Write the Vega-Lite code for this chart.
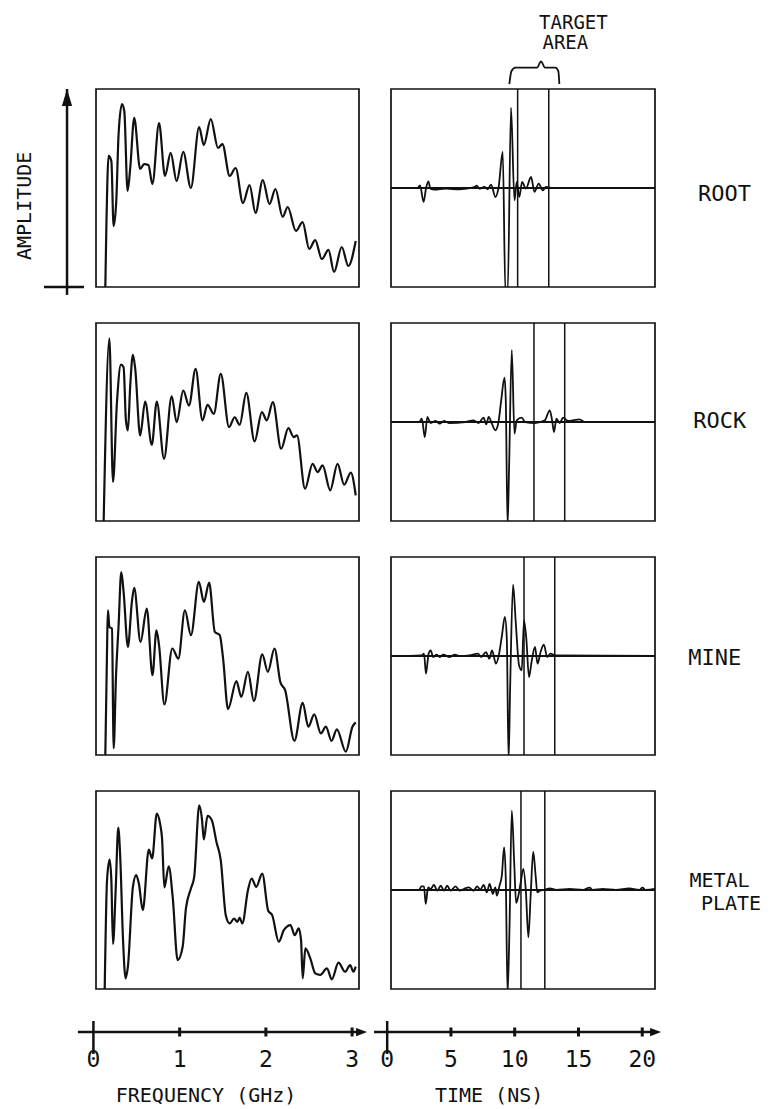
{
  "$schema": "https://vega.github.io/schema/vega-lite/v6.json",
  "background": "white",
  "padding": {"left": 14, "top": 12, "right": 4, "bottom": 2},
  "columns": 2,
  "bounds": "flush",
  "align": "each",
  "spacing": {"row": 36, "column": 32},
  "config": {
    "view": {"stroke": "#111", "strokeWidth": 1.7},
    "text": {"font": "DejaVu Sans Mono", "color": "#111"}
  },
  "datasets": {
    "spectra": [
      {"target":"ROOT","f":0.138,"a":0},{"target":"ROOT","f":0.150,"a":0.298},{"target":"ROOT","f":0.176,"a":0.662},{"target":"ROOT","f":0.208,"a":0.636},{"target":"ROOT","f":0.234,"a":0.308},{"target":"ROOT","f":0.265,"a":0.434},{"target":"ROOT","f":0.292,"a":0.773},{"target":"ROOT","f":0.331,"a":0.924},{"target":"ROOT","f":0.358,"a":0.889},{"target":"ROOT","f":0.396,"a":0.485},{"target":"ROOT","f":0.427,"a":0.601},{"target":"ROOT","f":0.473,"a":0.854},{"target":"ROOT","f":0.542,"a":0.596},{"target":"ROOT","f":0.588,"a":0.621},{"target":"ROOT","f":0.638,"a":0.616},{"target":"ROOT","f":0.684,"a":0.520},{"target":"ROOT","f":0.761,"a":0.828},{"target":"ROOT","f":0.830,"a":0.561},{"target":"ROOT","f":0.896,"a":0.677},{"target":"ROOT","f":0.965,"a":0.535},{"target":"ROOT","f":1.042,"a":0.682},{"target":"ROOT","f":1.130,"a":0.500},{"target":"ROOT","f":1.226,"a":0.808},{"target":"ROOT","f":1.280,"a":0.717},{"target":"ROOT","f":1.361,"a":0.848},{"target":"ROOT","f":1.445,"a":0.702},{"target":"ROOT","f":1.496,"a":0.722},{"target":"ROOT","f":1.580,"a":0.561},{"target":"ROOT","f":1.649,"a":0.601},{"target":"ROOT","f":1.734,"a":0.424},{"target":"ROOT","f":1.811,"a":0.515},{"target":"ROOT","f":1.880,"a":0.374},{"target":"ROOT","f":1.964,"a":0.540},{"target":"ROOT","f":2.042,"a":0.419},{"target":"ROOT","f":2.111,"a":0.495},{"target":"ROOT","f":2.195,"a":0.354},{"target":"ROOT","f":2.253,"a":0.404},{"target":"ROOT","f":2.349,"a":0.283},{"target":"ROOT","f":2.426,"a":0.328},{"target":"ROOT","f":2.503,"a":0.192},{"target":"ROOT","f":2.572,"a":0.237},{"target":"ROOT","f":2.649,"a":0.141},{"target":"ROOT","f":2.726,"a":0.187},{"target":"ROOT","f":2.791,"a":0.076},{"target":"ROOT","f":2.880,"a":0.202},{"target":"ROOT","f":2.956,"a":0.106},{"target":"ROOT","f":3.042,"a":0.232},
      {"target":"ROCK","f":0.119,"a":0},{"target":"ROCK","f":0.185,"a":0.923},{"target":"ROCK","f":0.227,"a":0.197},{"target":"ROCK","f":0.273,"a":0.600},{"target":"ROCK","f":0.319,"a":0.790},{"target":"ROCK","f":0.350,"a":0.776},{"target":"ROCK","f":0.377,"a":0.508},{"target":"ROCK","f":0.400,"a":0.457},{"target":"ROCK","f":0.427,"a":0.684},{"target":"ROCK","f":0.458,"a":0.839},{"target":"ROCK","f":0.485,"a":0.768},{"target":"ROCK","f":0.542,"a":0.432},{"target":"ROCK","f":0.600,"a":0.603},{"target":"ROCK","f":0.677,"a":0.385},{"target":"ROCK","f":0.735,"a":0.603},{"target":"ROCK","f":0.819,"a":0.314},{"target":"ROCK","f":0.908,"a":0.630},{"target":"ROCK","f":0.965,"a":0.499},{"target":"ROCK","f":1.042,"a":0.659},{"target":"ROCK","f":1.108,"a":0.583},{"target":"ROCK","f":1.185,"a":0.768},{"target":"ROCK","f":1.265,"a":0.508},{"target":"ROCK","f":1.323,"a":0.587},{"target":"ROCK","f":1.396,"a":0.541},{"target":"ROCK","f":1.477,"a":0.743},{"target":"ROCK","f":1.573,"a":0.474},{"target":"ROCK","f":1.638,"a":0.524},{"target":"ROCK","f":1.696,"a":0.486},{"target":"ROCK","f":1.773,"a":0.647},{"target":"ROCK","f":1.869,"a":0.402},{"target":"ROCK","f":1.954,"a":0.550},{"target":"ROCK","f":2.011,"a":0.508},{"target":"ROCK","f":2.081,"a":0.600},{"target":"ROCK","f":2.177,"a":0.365},{"target":"ROCK","f":2.261,"a":0.469},{"target":"ROCK","f":2.323,"a":0.424},{"target":"ROCK","f":2.361,"a":0.432},{"target":"ROCK","f":2.454,"a":0.163},{"target":"ROCK","f":2.542,"a":0.289},{"target":"ROCK","f":2.600,"a":0.247},{"target":"ROCK","f":2.658,"a":0.281},{"target":"ROCK","f":2.746,"a":0.155},{"target":"ROCK","f":2.831,"a":0.289},{"target":"ROCK","f":2.908,"a":0.183},{"target":"ROCK","f":2.985,"a":0.244},{"target":"ROCK","f":3.042,"a":0.129},
      {"target":"MINE","f":0.138,"a":0},{"target":"MINE","f":0.161,"a":0.613},{"target":"MINE","f":0.169,"a":0.731},{"target":"MINE","f":0.185,"a":0.647},{"target":"MINE","f":0.215,"a":0.639},{"target":"MINE","f":0.235,"a":0.034},{"target":"MINE","f":0.261,"a":0.387},{"target":"MINE","f":0.292,"a":0.655},{"target":"MINE","f":0.323,"a":0.924},{"target":"MINE","f":0.350,"a":0.824},{"target":"MINE","f":0.400,"a":0.546},{"target":"MINE","f":0.446,"a":0.773},{"target":"MINE","f":0.473,"a":0.844},{"target":"MINE","f":0.546,"a":0.571},{"target":"MINE","f":0.619,"a":0.739},{"target":"MINE","f":0.685,"a":0.403},{"target":"MINE","f":0.731,"a":0.630},{"target":"MINE","f":0.761,"a":0.555},{"target":"MINE","f":0.823,"a":0.255},{"target":"MINE","f":0.915,"a":0.538},{"target":"MINE","f":0.985,"a":0.487},{"target":"MINE","f":1.061,"a":0.731},{"target":"MINE","f":1.131,"a":0.605},{"target":"MINE","f":1.223,"a":0.874},{"target":"MINE","f":1.281,"a":0.773},{"target":"MINE","f":1.342,"a":0.871},{"target":"MINE","f":1.408,"a":0.622},{"target":"MINE","f":1.465,"a":0.605},{"target":"MINE","f":1.504,"a":0.487},{"target":"MINE","f":1.561,"a":0.232},{"target":"MINE","f":1.658,"a":0.373},{"target":"MINE","f":1.715,"a":0.294},{"target":"MINE","f":1.792,"a":0.420},{"target":"MINE","f":1.861,"a":0.272},{"target":"MINE","f":1.958,"a":0.508},{"target":"MINE","f":2.023,"a":0.420},{"target":"MINE","f":2.100,"a":0.538},{"target":"MINE","f":2.169,"a":0.366},{"target":"MINE","f":2.223,"a":0.328},{"target":"MINE","f":2.331,"a":0.072},{"target":"MINE","f":2.427,"a":0.264},{"target":"MINE","f":2.492,"a":0.143},{"target":"MINE","f":2.561,"a":0.205},{"target":"MINE","f":2.638,"a":0.109},{"target":"MINE","f":2.696,"a":0.143},{"target":"MINE","f":2.761,"a":0.071},{"target":"MINE","f":2.823,"a":0.129},{"target":"MINE","f":2.927,"a":0.017},{"target":"MINE","f":3.004,"a":0.143},{"target":"MINE","f":3.042,"a":0.165},
      {"target":"METAL","f":0.131,"a":0},{"target":"METAL","f":0.158,"a":0.550},{"target":"METAL","f":0.188,"a":0.654},{"target":"METAL","f":0.208,"a":0.550},{"target":"METAL","f":0.227,"a":0.227},{"target":"METAL","f":0.258,"a":0.499},{"target":"METAL","f":0.288,"a":0.815},{"target":"METAL","f":0.311,"a":0.667},{"target":"METAL","f":0.342,"a":0.264},{"target":"METAL","f":0.373,"a":0.054},{"target":"METAL","f":0.400,"a":0.113},{"target":"METAL","f":0.458,"a":0.516},{"target":"METAL","f":0.496,"a":0.575},{"target":"METAL","f":0.527,"a":0.533},{"target":"METAL","f":0.573,"a":0.398},{"target":"METAL","f":0.642,"a":0.704},{"target":"METAL","f":0.681,"a":0.659},{"target":"METAL","f":0.735,"a":0.886},{"target":"METAL","f":0.773,"a":0.835},{"target":"METAL","f":0.796,"a":0.760},{"target":"METAL","f":0.823,"a":0.513},{"target":"METAL","f":0.873,"a":0.620},{"target":"METAL","f":0.919,"a":0.466},{"target":"METAL","f":0.977,"a":0.146},{"target":"METAL","f":1.035,"a":0.213},{"target":"METAL","f":1.073,"a":0.407},{"target":"METAL","f":1.131,"a":0.508},{"target":"METAL","f":1.169,"a":0.566},{"target":"METAL","f":1.227,"a":0.928},{"target":"METAL","f":1.258,"a":0.861},{"target":"METAL","f":1.281,"a":0.755},{"target":"METAL","f":1.323,"a":0.874},{"target":"METAL","f":1.373,"a":0.852},{"target":"METAL","f":1.427,"a":0.743},{"target":"METAL","f":1.477,"a":0.650},{"target":"METAL","f":1.535,"a":0.373},{"target":"METAL","f":1.581,"a":0.331},{"target":"METAL","f":1.631,"a":0.356},{"target":"METAL","f":1.669,"a":0.339},{"target":"METAL","f":1.696,"a":0.360},{"target":"METAL","f":1.727,"a":0.331},{"target":"METAL","f":1.792,"a":0.499},{"target":"METAL","f":1.835,"a":0.558},{"target":"METAL","f":1.888,"a":0.516},{"target":"METAL","f":1.958,"a":0.583},{"target":"METAL","f":2.027,"a":0.395},{"target":"METAL","f":2.073,"a":0.373},{"target":"METAL","f":2.150,"a":0.239},{"target":"METAL","f":2.208,"a":0.297},{"target":"METAL","f":2.285,"a":0.323},{"target":"METAL","f":2.335,"a":0.272},{"target":"METAL","f":2.381,"a":0.306},{"target":"METAL","f":2.408,"a":0.247},{"target":"METAL","f":2.427,"a":0.054},{"target":"METAL","f":2.458,"a":0.205},{"target":"METAL","f":2.515,"a":0.155},{"target":"METAL","f":2.573,"a":0.079},{"target":"METAL","f":2.631,"a":0.071},{"target":"METAL","f":2.708,"a":0.104},{"target":"METAL","f":2.765,"a":0.049},{"target":"METAL","f":2.842,"a":0.133},{"target":"METAL","f":2.919,"a":0.087},{"target":"METAL","f":2.977,"a":0.121},{"target":"METAL","f":3.015,"a":0.087},{"target":"METAL","f":3.042,"a":0.113}
    ],
    "signals": [
      {"target":"ROOT","t":0.30,"v":0},{"target":"ROOT","t":2.39,"v":0},{"target":"ROOT","t":2.57,"v":0.027},{"target":"ROOT","t":2.86,"v":-0.141},{"target":"ROOT","t":3.04,"v":-0.007},{"target":"ROOT","t":3.23,"v":0.067},{"target":"ROOT","t":3.39,"v":-0.007},{"target":"ROOT","t":3.70,"v":-0.017},{"target":"ROOT","t":4.61,"v":-0.007},{"target":"ROOT","t":5.66,"v":-0.013},{"target":"ROOT","t":6.83,"v":0.010},{"target":"ROOT","t":7.02,"v":0.024},{"target":"ROOT","t":7.23,"v":-0.007},{"target":"ROOT","t":7.62,"v":0.010},{"target":"ROOT","t":7.89,"v":-0.013},{"target":"ROOT","t":8.14,"v":0.034},{"target":"ROOT","t":8.49,"v":-0.091},{"target":"ROOT","t":8.74,"v":0.010},{"target":"ROOT","t":9.06,"v":0.364},{"target":"ROOT","t":9.27,"v":-1.05},{"target":"ROOT","t":9.45,"v":-1.05},{"target":"ROOT","t":9.71,"v":0.811},{"target":"ROOT","t":9.98,"v":-0.125},{"target":"ROOT","t":10.16,"v":0.061},{"target":"ROOT","t":10.36,"v":-0.091},{"target":"ROOT","t":10.58,"v":0.061},{"target":"ROOT","t":10.88,"v":-0.007},{"target":"ROOT","t":11.28,"v":0.111},{"target":"ROOT","t":11.55,"v":-0.040},{"target":"ROOT","t":11.88,"v":0.044},{"target":"ROOT","t":12.20,"v":-0.024},{"target":"ROOT","t":12.45,"v":0.010},{"target":"ROOT","t":12.98,"v":0},{"target":"ROOT","t":21.0,"v":0},
      {"target":"ROCK","t":0.30,"v":0},{"target":"ROCK","t":2.50,"v":0},{"target":"ROCK","t":2.72,"v":0.034},{"target":"ROCK","t":2.95,"v":-0.152},{"target":"ROCK","t":3.15,"v":0.051},{"target":"ROCK","t":3.41,"v":-0.010},{"target":"ROCK","t":3.81,"v":0.010},{"target":"ROCK","t":4.11,"v":-0.017},{"target":"ROCK","t":4.45,"v":0.010},{"target":"ROCK","t":4.84,"v":-0.010},{"target":"ROCK","t":6.14,"v":0},{"target":"ROCK","t":6.78,"v":0.017},{"target":"ROCK","t":7.17,"v":-0.010},{"target":"ROCK","t":7.56,"v":0.044},{"target":"ROCK","t":7.77,"v":-0.024},{"target":"ROCK","t":7.96,"v":0.051},{"target":"ROCK","t":8.21,"v":-0.017},{"target":"ROCK","t":8.48,"v":-0.084},{"target":"ROCK","t":8.73,"v":0},{"target":"ROCK","t":8.94,"v":0.219},{"target":"ROCK","t":9.20,"v":0.448},{"target":"ROCK","t":9.30,"v":0.219},{"target":"ROCK","t":9.44,"v":-1.05},{"target":"ROCK","t":9.56,"v":-0.455},{"target":"ROCK","t":9.77,"v":0.727},{"target":"ROCK","t":9.98,"v":-0.118},{"target":"ROCK","t":10.16,"v":0.017},{"target":"ROCK","t":10.55,"v":0.044},{"target":"ROCK","t":10.81,"v":0},{"target":"ROCK","t":11.59,"v":-0.010},{"target":"ROCK","t":12.36,"v":0.017},{"target":"ROCK","t":12.75,"v":0.118},{"target":"ROCK","t":12.93,"v":0.017},{"target":"ROCK","t":13.08,"v":-0.101},{"target":"ROCK","t":13.27,"v":0.034},{"target":"ROCK","t":13.53,"v":-0.010},{"target":"ROCK","t":13.79,"v":0.044},{"target":"ROCK","t":14.18,"v":0.010},{"target":"ROCK","t":14.57,"v":0.017},{"target":"ROCK","t":15.08,"v":0.027},{"target":"ROCK","t":15.48,"v":0},{"target":"ROCK","t":21.0,"v":0},
      {"target":"MINE","t":0.30,"v":0},{"target":"MINE","t":2.71,"v":0.007},{"target":"MINE","t":2.89,"v":0.024},{"target":"MINE","t":3.04,"v":-0.178},{"target":"MINE","t":3.25,"v":0.024},{"target":"MINE","t":3.41,"v":0.057},{"target":"MINE","t":3.61,"v":-0.010},{"target":"MINE","t":3.87,"v":0.013},{"target":"MINE","t":4.13,"v":-0.010},{"target":"MINE","t":4.39,"v":0.013},{"target":"MINE","t":4.91,"v":-0.010},{"target":"MINE","t":5.30,"v":0.013},{"target":"MINE","t":5.68,"v":0},{"target":"MINE","t":6.46,"v":0.007},{"target":"MINE","t":7.11,"v":0.024},{"target":"MINE","t":7.37,"v":-0.010},{"target":"MINE","t":7.75,"v":0.040},{"target":"MINE","t":8.01,"v":-0.027},{"target":"MINE","t":8.22,"v":0.057},{"target":"MINE","t":8.53,"v":-0.077},{"target":"MINE","t":8.78,"v":0.024},{"target":"MINE","t":9.00,"v":0.209},{"target":"MINE","t":9.23,"v":0.394},{"target":"MINE","t":9.38,"v":0.175},{"target":"MINE","t":9.52,"v":-1.05},{"target":"MINE","t":9.64,"v":-0.330},{"target":"MINE","t":9.87,"v":0.721},{"target":"MINE","t":10.08,"v":0.343},{"target":"MINE","t":10.34,"v":-0.094},{"target":"MINE","t":10.55,"v":-0.145},{"target":"MINE","t":10.73,"v":0.360},{"target":"MINE","t":10.91,"v":0.175},{"target":"MINE","t":11.12,"v":-0.212},{"target":"MINE","t":11.32,"v":-0.061},{"target":"MINE","t":11.59,"v":0.091},{"target":"MINE","t":11.79,"v":-0.077},{"target":"MINE","t":12.03,"v":0.040},{"target":"MINE","t":12.28,"v":0.114},{"target":"MINE","t":12.55,"v":-0.010},{"target":"MINE","t":12.80,"v":0.024},{"target":"MINE","t":13.19,"v":0.007},{"target":"MINE","t":21.0,"v":0},
      {"target":"METAL","t":0.30,"v":0},{"target":"METAL","t":2.50,"v":0},{"target":"METAL","t":2.69,"v":0.037},{"target":"METAL","t":2.89,"v":0.037},{"target":"METAL","t":3.02,"v":-0.141},{"target":"METAL","t":3.21,"v":0.027},{"target":"METAL","t":3.41,"v":0.010},{"target":"METAL","t":3.67,"v":0.051},{"target":"METAL","t":3.93,"v":-0.007},{"target":"METAL","t":4.20,"v":0.044},{"target":"METAL","t":4.45,"v":-0.007},{"target":"METAL","t":4.71,"v":0.044},{"target":"METAL","t":4.97,"v":-0.007},{"target":"METAL","t":5.36,"v":0.037},{"target":"METAL","t":5.69,"v":-0.007},{"target":"METAL","t":6.01,"v":0.010},{"target":"METAL","t":6.40,"v":0.027},{"target":"METAL","t":6.78,"v":-0.007},{"target":"METAL","t":7.05,"v":0.037},{"target":"METAL","t":7.30,"v":0.003},{"target":"METAL","t":7.56,"v":0.051},{"target":"METAL","t":7.82,"v":-0.024},{"target":"METAL","t":8.03,"v":0.061},{"target":"METAL","t":8.29,"v":-0.040},{"target":"METAL","t":8.48,"v":0.027},{"target":"METAL","t":8.60,"v":-0.057},{"target":"METAL","t":8.81,"v":0.044},{"target":"METAL","t":8.99,"v":0.145},{"target":"METAL","t":9.17,"v":0.431},{"target":"METAL","t":9.30,"v":0.111},{"target":"METAL","t":9.44,"v":-1.05},{"target":"METAL","t":9.59,"v":-0.394},{"target":"METAL","t":9.77,"v":0.801},{"target":"METAL","t":9.96,"v":0.279},{"target":"METAL","t":10.11,"v":-0.131},{"target":"METAL","t":10.29,"v":-0.057},{"target":"METAL","t":10.47,"v":0.077},{"target":"METAL","t":10.68,"v":0.212},{"target":"METAL","t":10.88,"v":-0.024},{"target":"METAL","t":11.07,"v":-0.478},{"target":"METAL","t":11.25,"v":-0.057},{"target":"METAL","t":11.45,"v":0.387},{"target":"METAL","t":11.64,"v":0.145},{"target":"METAL","t":11.77,"v":-0.024},{"target":"METAL","t":11.97,"v":-0.007},{"target":"METAL","t":12.36,"v":0.003},{"target":"METAL","t":12.75,"v":0.017},{"target":"METAL","t":13.27,"v":0},{"target":"METAL","t":14.31,"v":0.010},{"target":"METAL","t":15.35,"v":0},{"target":"METAL","t":15.87,"v":0.024},{"target":"METAL","t":16.12,"v":0},{"target":"METAL","t":16.90,"v":0.010},{"target":"METAL","t":17.94,"v":0},{"target":"METAL","t":18.98,"v":0.017},{"target":"METAL","t":19.75,"v":0},{"target":"METAL","t":20.02,"v":0.024},{"target":"METAL","t":20.27,"v":0},{"target":"METAL","t":21.0,"v":0.010}
    ],
    "windows": [
      {"target":"ROOT","t":10.23},{"target":"ROOT","t":12.67},
      {"target":"ROCK","t":11.51},{"target":"ROCK","t":13.92},
      {"target":"MINE","t":10.73},{"target":"MINE","t":13.14},
      {"target":"METAL","t":10.49},{"target":"METAL","t":12.36}
    ],
    "brace": [
      {"t":9.58,"v":1.05},{"t":9.74,"v":1.18},{"t":10.05,"v":1.215},{"t":11.75,"v":1.215},{"t":12.06,"v":1.28},{"t":12.38,"v":1.215},{"t":13.19,"v":1.215},{"t":13.42,"v":1.18},{"t":13.50,"v":1.05}
    ],
    "notes": [
      {"t":14.6,"v":1.67,"label":"TARGET"},
      {"t":13.97,"v":1.46,"label":"AREA"}
    ],
    "ampAxis": [
      {"f":-0.306,"f2":-0.306,"a":-0.04,"a2":1.0},
      {"f":-0.573,"f2":-0.109,"a":0,"a2":0}
    ],
    "freqTicks": [{"f":0},{"f":1},{"f":2},{"f":3}],
    "timeTicks": [{"t":0},{"t":5},{"t":10},{"t":15},{"t":20}]
  },
  "concat": [
    {
      "width": 263, "height": 198,
      "layer": [
        {
          "data": {"name": "spectra"},
          "transform": [{"filter": "datum.target === 'ROOT'"}],
          "mark": {"type": "line", "interpolate": "monotone", "color": "#111", "strokeWidth": 2.2, "strokeJoin": "round", "clip": true},
          "encoding": {
            "x": {"field": "f", "type": "quantitative", "scale": {"domain": [0.03, 3.08], "nice": false, "zero": false}, "axis": null},
            "y": {"field": "a", "type": "quantitative", "scale": {"domain": [0, 1], "nice": false}, "axis": null}
          }
        },
        {
          "data": {"name": "ampAxis"},
          "mark": {"type": "rule", "color": "#111", "strokeWidth": 2.5},
          "encoding": {
            "x": {"field": "f", "type": "quantitative", "scale": {"domain": [0.03, 3.08], "nice": false, "zero": false}, "axis": null},
            "x2": {"field": "f2"},
            "y": {"field": "a", "type": "quantitative", "scale": {"domain": [0, 1], "nice": false}, "axis": null},
            "y2": {"field": "a2"}
          }
        },
        {
          "data": {"values": [{}]},
          "mark": {"type": "point", "shape": "M0,-1L0.6,1L-0.6,1Z", "filled": true, "size": 289, "color": "#111", "opacity": 1},
          "encoding": {
            "x": {"datum": -0.306, "type": "quantitative", "scale": {"domain": [0.03, 3.08], "nice": false, "zero": false}, "axis": null},
            "y": {"datum": 0.957, "type": "quantitative", "scale": {"domain": [0, 1], "nice": false}, "axis": null}
          }
        },
        {
          "data": {"values": [{}]},
          "mark": {"type": "text", "fontSize": 20, "angle": 270, "align": "center", "baseline": "middle"},
          "encoding": {
            "x": {"datum": -0.793, "type": "quantitative", "scale": {"domain": [0.03, 3.08], "nice": false, "zero": false}, "axis": null},
            "y": {"datum": 0.41, "type": "quantitative", "scale": {"domain": [0, 1], "nice": false}, "axis": null},
            "text": {"value": "AMPLITUDE"}
          }
        }
      ]
    },
    {
      "width": 264, "height": 198,
      "layer": [
        {
          "data": {"values": [{}]},
          "mark": {"type": "rule", "color": "#111", "strokeWidth": 1.8},
          "encoding": {
            "y": {"datum": 0, "type": "quantitative", "scale": {"domain": [-1, 1], "nice": false}, "axis": null}
          }
        },
        {
          "data": {"name": "windows"},
          "transform": [{"filter": "datum.target === 'ROOT'"}],
          "mark": {"type": "rule", "color": "#111", "strokeWidth": 1.5},
          "encoding": {
            "x": {"field": "t", "type": "quantitative", "scale": {"domain": [0.3, 21], "nice": false, "zero": false}, "axis": null}
          }
        },
        {
          "data": {"name": "signals"},
          "transform": [{"filter": "datum.target === 'ROOT'"}],
          "mark": {"type": "line", "interpolate": "monotone", "color": "#111", "strokeWidth": 1.8, "strokeJoin": "round", "clip": true},
          "encoding": {
            "x": {"field": "t", "type": "quantitative", "scale": {"domain": [0.3, 21], "nice": false, "zero": false}, "axis": null},
            "y": {"field": "v", "type": "quantitative", "scale": {"domain": [-1, 1], "nice": false}, "axis": null}
          }
        },
        {
          "data": {"name": "brace"},
          "mark": {"type": "line", "interpolate": "monotone", "color": "#111", "strokeWidth": 1.8, "strokeJoin": "round"},
          "encoding": {
            "x": {"field": "t", "type": "quantitative", "scale": {"domain": [0.3, 21], "nice": false, "zero": false}, "axis": null},
            "y": {"field": "v", "type": "quantitative", "scale": {"domain": [-1, 1], "nice": false}, "axis": null}
          }
        },
        {
          "data": {"name": "notes"},
          "mark": {"type": "text", "fontSize": 19, "align": "center", "baseline": "middle"},
          "encoding": {
            "x": {"field": "t", "type": "quantitative", "scale": {"domain": [0.3, 21], "nice": false, "zero": false}, "axis": null},
            "y": {"field": "v", "type": "quantitative", "scale": {"domain": [-1, 1], "nice": false}, "axis": null},
            "text": {"field": "label"}
          }
        },
        {
          "data": {"values": [{}]},
          "mark": {"type": "text", "fontSize": 22, "align": "left", "baseline": "middle"},
          "encoding": {
            "x": {"datum": 24.38, "type": "quantitative", "scale": {"domain": [0.3, 21], "nice": false, "zero": false}, "axis": null},
            "y": {"datum": -0.06, "type": "quantitative", "scale": {"domain": [-1, 1], "nice": false}, "axis": null},
            "text": {"value": "ROOT"}
          }
        }
      ]
    },
    {
      "width": 263, "height": 198,
      "data": {"name": "spectra"},
      "transform": [{"filter": "datum.target === 'ROCK'"}],
      "mark": {"type": "line", "interpolate": "monotone", "color": "#111", "strokeWidth": 2.2, "strokeJoin": "round", "clip": true},
      "encoding": {
        "x": {"field": "f", "type": "quantitative", "scale": {"domain": [0.03, 3.08], "nice": false, "zero": false}, "axis": null},
        "y": {"field": "a", "type": "quantitative", "scale": {"domain": [0, 1], "nice": false}, "axis": null}
      }
    },
    {
      "width": 264, "height": 198,
      "layer": [
        {
          "data": {"values": [{}]},
          "mark": {"type": "rule", "color": "#111", "strokeWidth": 1.8},
          "encoding": {
            "y": {"datum": 0, "type": "quantitative", "scale": {"domain": [-1, 1], "nice": false}, "axis": null}
          }
        },
        {
          "data": {"name": "windows"},
          "transform": [{"filter": "datum.target === 'ROCK'"}],
          "mark": {"type": "rule", "color": "#111", "strokeWidth": 1.5},
          "encoding": {
            "x": {"field": "t", "type": "quantitative", "scale": {"domain": [0.3, 21], "nice": false, "zero": false}, "axis": null}
          }
        },
        {
          "data": {"name": "signals"},
          "transform": [{"filter": "datum.target === 'ROCK'"}],
          "mark": {"type": "line", "interpolate": "monotone", "color": "#111", "strokeWidth": 1.8, "strokeJoin": "round", "clip": true},
          "encoding": {
            "x": {"field": "t", "type": "quantitative", "scale": {"domain": [0.3, 21], "nice": false, "zero": false}, "axis": null},
            "y": {"field": "v", "type": "quantitative", "scale": {"domain": [-1, 1], "nice": false}, "axis": null}
          }
        },
        {
          "data": {"values": [{}]},
          "mark": {"type": "text", "fontSize": 22, "align": "left", "baseline": "middle"},
          "encoding": {
            "x": {"datum": 24.0, "type": "quantitative", "scale": {"domain": [0.3, 21], "nice": false, "zero": false}, "axis": null},
            "y": {"datum": 0.01, "type": "quantitative", "scale": {"domain": [-1, 1], "nice": false}, "axis": null},
            "text": {"value": "ROCK"}
          }
        }
      ]
    },
    {
      "width": 263, "height": 198,
      "data": {"name": "spectra"},
      "transform": [{"filter": "datum.target === 'MINE'"}],
      "mark": {"type": "line", "interpolate": "monotone", "color": "#111", "strokeWidth": 2.2, "strokeJoin": "round", "clip": true},
      "encoding": {
        "x": {"field": "f", "type": "quantitative", "scale": {"domain": [0.03, 3.08], "nice": false, "zero": false}, "axis": null},
        "y": {"field": "a", "type": "quantitative", "scale": {"domain": [0, 1], "nice": false}, "axis": null}
      }
    },
    {
      "width": 264, "height": 198,
      "layer": [
        {
          "data": {"values": [{}]},
          "mark": {"type": "rule", "color": "#111", "strokeWidth": 1.8},
          "encoding": {
            "y": {"datum": 0, "type": "quantitative", "scale": {"domain": [-1, 1], "nice": false}, "axis": null}
          }
        },
        {
          "data": {"name": "windows"},
          "transform": [{"filter": "datum.target === 'MINE'"}],
          "mark": {"type": "rule", "color": "#111", "strokeWidth": 1.5},
          "encoding": {
            "x": {"field": "t", "type": "quantitative", "scale": {"domain": [0.3, 21], "nice": false, "zero": false}, "axis": null}
          }
        },
        {
          "data": {"name": "signals"},
          "transform": [{"filter": "datum.target === 'MINE'"}],
          "mark": {"type": "line", "interpolate": "monotone", "color": "#111", "strokeWidth": 1.8, "strokeJoin": "round", "clip": true},
          "encoding": {
            "x": {"field": "t", "type": "quantitative", "scale": {"domain": [0.3, 21], "nice": false, "zero": false}, "axis": null},
            "y": {"field": "v", "type": "quantitative", "scale": {"domain": [-1, 1], "nice": false}, "axis": null}
          }
        },
        {
          "data": {"values": [{}]},
          "mark": {"type": "text", "fontSize": 22, "align": "left", "baseline": "middle"},
          "encoding": {
            "x": {"datum": 23.6, "type": "quantitative", "scale": {"domain": [0.3, 21], "nice": false, "zero": false}, "axis": null},
            "y": {"datum": -0.02, "type": "quantitative", "scale": {"domain": [-1, 1], "nice": false}, "axis": null},
            "text": {"value": "MINE"}
          }
        }
      ]
    },
    {
      "width": 263, "height": 198,
      "data": {"name": "spectra"},
      "transform": [{"filter": "datum.target === 'METAL'"}],
      "mark": {"type": "line", "interpolate": "monotone", "color": "#111", "strokeWidth": 2.2, "strokeJoin": "round", "clip": true},
      "encoding": {
        "x": {"field": "f", "type": "quantitative", "scale": {"domain": [0.03, 3.08], "nice": false, "zero": false}, "axis": null},
        "y": {"field": "a", "type": "quantitative", "scale": {"domain": [0, 1], "nice": false}, "axis": null}
      }
    },
    {
      "width": 264, "height": 198,
      "layer": [
        {
          "data": {"values": [{}]},
          "mark": {"type": "rule", "color": "#111", "strokeWidth": 1.8},
          "encoding": {
            "y": {"datum": 0, "type": "quantitative", "scale": {"domain": [-1, 1], "nice": false}, "axis": null}
          }
        },
        {
          "data": {"name": "windows"},
          "transform": [{"filter": "datum.target === 'METAL'"}],
          "mark": {"type": "rule", "color": "#111", "strokeWidth": 1.5},
          "encoding": {
            "x": {"field": "t", "type": "quantitative", "scale": {"domain": [0.3, 21], "nice": false, "zero": false}, "axis": null}
          }
        },
        {
          "data": {"name": "signals"},
          "transform": [{"filter": "datum.target === 'METAL'"}],
          "mark": {"type": "line", "interpolate": "monotone", "color": "#111", "strokeWidth": 1.8, "strokeJoin": "round", "clip": true},
          "encoding": {
            "x": {"field": "t", "type": "quantitative", "scale": {"domain": [0.3, 21], "nice": false, "zero": false}, "axis": null},
            "y": {"field": "v", "type": "quantitative", "scale": {"domain": [-1, 1], "nice": false}, "axis": null}
          }
        },
        {
          "data": {"values": [{}]},
          "mark": {"type": "text", "fontSize": 20, "align": "left", "baseline": "middle"},
          "encoding": {
            "x": {"datum": 23.7, "type": "quantitative", "scale": {"domain": [0.3, 21], "nice": false, "zero": false}, "axis": null},
            "y": {"datum": 0.09, "type": "quantitative", "scale": {"domain": [-1, 1], "nice": false}, "axis": null},
            "text": {"value": "METAL"}
          }
        },
        {
          "data": {"values": [{}]},
          "mark": {"type": "text", "fontSize": 20, "align": "left", "baseline": "middle"},
          "encoding": {
            "x": {"datum": 24.6, "type": "quantitative", "scale": {"domain": [0.3, 21], "nice": false, "zero": false}, "axis": null},
            "y": {"datum": -0.14, "type": "quantitative", "scale": {"domain": [-1, 1], "nice": false}, "axis": null},
            "text": {"value": "PLATE"}
          }
        }
      ]
    },
    {
      "width": 263, "height": 50,
      "view": {"stroke": null},
      "layer": [
        {
          "data": {"values": [{"f": -0.18, "f2": 3.06}]},
          "mark": {"type": "rule", "color": "#111", "strokeWidth": 2.5},
          "encoding": {
            "x": {"field": "f", "type": "quantitative", "scale": {"domain": [0.03, 3.08], "nice": false, "zero": false}, "axis": null},
            "x2": {"field": "f2"},
            "y": {"datum": 0, "type": "quantitative", "scale": {"domain": [-4.3, 0.7], "nice": false, "zero": false}, "axis": null}
          }
        },
        {
          "data": {"name": "freqTicks"},
          "transform": [{"filter": "datum.f > 0"}],
          "mark": {"type": "rule", "color": "#111", "strokeWidth": 3},
          "encoding": {
            "x": {"field": "f", "type": "quantitative", "scale": {"domain": [0.03, 3.08], "nice": false, "zero": false}, "axis": null},
            "y": {"datum": -0.45, "type": "quantitative", "scale": {"domain": [-4.3, 0.7], "nice": false, "zero": false}, "axis": null},
            "y2": {"datum": 0.45}
          }
        },
        {
          "data": {"values": [{}]},
          "mark": {"type": "rule", "color": "#111", "strokeWidth": 2.5},
          "encoding": {
            "x": {"datum": 0, "type": "quantitative", "scale": {"domain": [0.03, 3.08], "nice": false, "zero": false}, "axis": null},
            "y": {"datum": -2.2, "type": "quantitative", "scale": {"domain": [-4.3, 0.7], "nice": false, "zero": false}, "axis": null},
            "y2": {"datum": 1.1}
          }
        },
        {
          "data": {"values": [{}]},
          "mark": {"type": "point", "shape": "M1,0L-1,-0.75L-1,0.75Z", "filled": true, "size": 121, "color": "#111", "opacity": 1},
          "encoding": {
            "x": {"datum": 3.11, "type": "quantitative", "scale": {"domain": [0.03, 3.08], "nice": false, "zero": false}, "axis": null},
            "y": {"datum": 0, "type": "quantitative", "scale": {"domain": [-4.3, 0.7], "nice": false, "zero": false}, "axis": null}
          }
        },
        {
          "data": {"name": "freqTicks"},
          "mark": {"type": "text", "fontSize": 23, "align": "center", "baseline": "middle"},
          "encoding": {
            "x": {"field": "f", "type": "quantitative", "scale": {"domain": [0.03, 3.08], "nice": false, "zero": false}, "axis": null},
            "y": {"datum": -2.8, "type": "quantitative", "scale": {"domain": [-4.3, 0.7], "nice": false, "zero": false}, "axis": null},
            "text": {"field": "f", "type": "quantitative", "format": "d"}
          }
        },
        {
          "data": {"values": [{}]},
          "mark": {"type": "text", "fontSize": 20, "align": "center", "baseline": "middle"},
          "encoding": {
            "x": {"datum": 1.306, "type": "quantitative", "scale": {"domain": [0.03, 3.08], "nice": false, "zero": false}, "axis": null},
            "y": {"datum": -6.4, "type": "quantitative", "scale": {"domain": [-4.3, 0.7], "nice": false, "zero": false}, "axis": null},
            "text": {"value": "FREQUENCY (GHz)"}
          }
        }
      ]
    },
    {
      "width": 264, "height": 50,
      "view": {"stroke": null},
      "layer": [
        {
          "data": {"values": [{"t": -1.03, "t2": 20.7}]},
          "mark": {"type": "rule", "color": "#111", "strokeWidth": 2.5},
          "encoding": {
            "x": {"field": "t", "type": "quantitative", "scale": {"domain": [0.3, 21], "nice": false, "zero": false}, "axis": null},
            "x2": {"field": "t2"},
            "y": {"datum": 0, "type": "quantitative", "scale": {"domain": [-4.3, 0.7], "nice": false, "zero": false}, "axis": null}
          }
        },
        {
          "data": {"name": "timeTicks"},
          "transform": [{"filter": "datum.t > 0"}],
          "mark": {"type": "rule", "color": "#111", "strokeWidth": 3},
          "encoding": {
            "x": {"field": "t", "type": "quantitative", "scale": {"domain": [0.3, 21], "nice": false, "zero": false}, "axis": null},
            "y": {"datum": -0.45, "type": "quantitative", "scale": {"domain": [-4.3, 0.7], "nice": false, "zero": false}, "axis": null},
            "y2": {"datum": 0.45}
          }
        },
        {
          "data": {"values": [{}]},
          "mark": {"type": "rule", "color": "#111", "strokeWidth": 2.5},
          "encoding": {
            "x": {"datum": 0, "type": "quantitative", "scale": {"domain": [0.3, 21], "nice": false, "zero": false}, "axis": null},
            "y": {"datum": -2.2, "type": "quantitative", "scale": {"domain": [-4.3, 0.7], "nice": false, "zero": false}, "axis": null},
            "y2": {"datum": 1.1}
          }
        },
        {
          "data": {"values": [{}]},
          "mark": {"type": "point", "shape": "M1,0L-1,-0.75L-1,0.75Z", "filled": true, "size": 121, "color": "#111", "opacity": 1},
          "encoding": {
            "x": {"datum": 21.05, "type": "quantitative", "scale": {"domain": [0.3, 21], "nice": false, "zero": false}, "axis": null},
            "y": {"datum": 0, "type": "quantitative", "scale": {"domain": [-4.3, 0.7], "nice": false, "zero": false}, "axis": null}
          }
        },
        {
          "data": {"name": "timeTicks"},
          "mark": {"type": "text", "fontSize": 23, "align": "center", "baseline": "middle"},
          "encoding": {
            "x": {"field": "t", "type": "quantitative", "scale": {"domain": [0.3, 21], "nice": false, "zero": false}, "axis": null},
            "y": {"datum": -2.8, "type": "quantitative", "scale": {"domain": [-4.3, 0.7], "nice": false, "zero": false}, "axis": null},
            "text": {"field": "t", "type": "quantitative", "format": "d"}
          }
        },
        {
          "data": {"values": [{}]},
          "mark": {"type": "text", "fontSize": 20, "align": "center", "baseline": "middle"},
          "encoding": {
            "x": {"datum": 7.99, "type": "quantitative", "scale": {"domain": [0.3, 21], "nice": false, "zero": false}, "axis": null},
            "y": {"datum": -6.4, "type": "quantitative", "scale": {"domain": [-4.3, 0.7], "nice": false, "zero": false}, "axis": null},
            "text": {"value": "TIME (NS)"}
          }
        }
      ]
    }
  ]
}
